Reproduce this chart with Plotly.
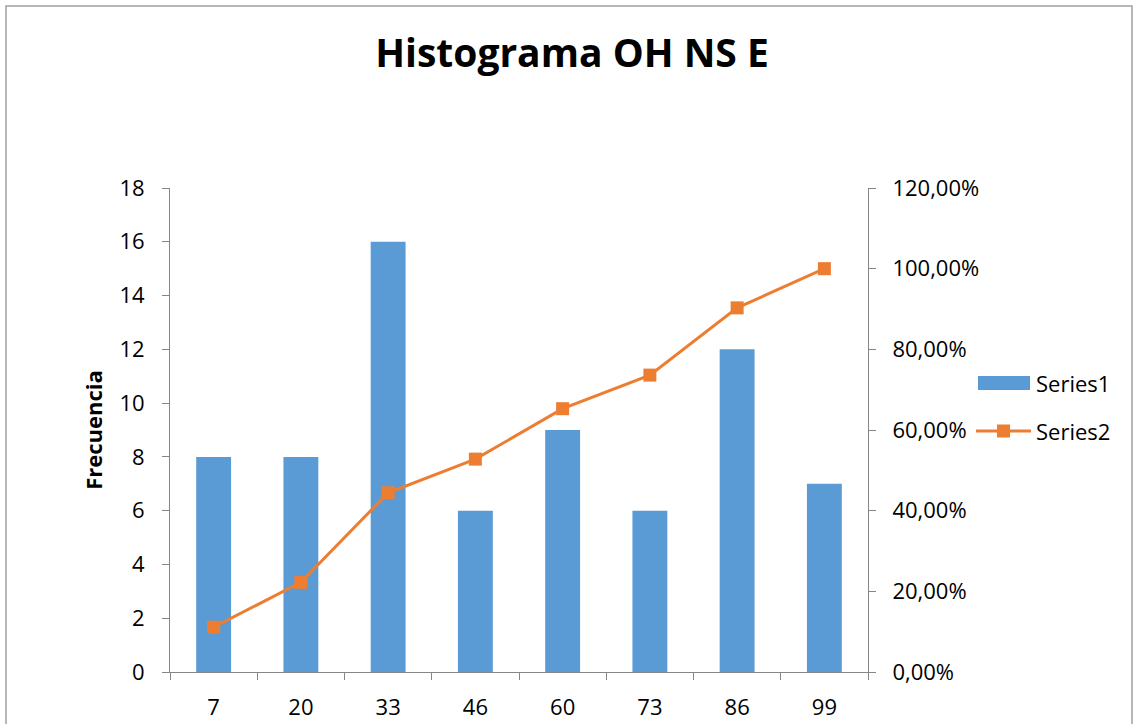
import plotly.graph_objects as go

categories = ["7", "20", "33", "46", "60", "73", "86", "99"]
frecuencia = [8, 8, 16, 6, 9, 6, 12, 7]
acumulado = [0.1111, 0.2222, 0.4444, 0.5278, 0.6528, 0.7361, 0.9028, 1.0]
left_ticks = [0, 2, 4, 6, 8, 10, 12, 14, 16, 18]
right_ticks = [0, 0.2, 0.4, 0.6, 0.8, 1.0, 1.2]
series_names = ["Series1", "Series2"]

FONT = "Open Sans"
BAR_C = "#5B9BD5"
LINE_C = "#ED7D31"
AX_C = "#868686"
W, H = 1134, 724
L, R, T, B = 170, 266, 188, 52
pw, ph = W - L - R, H - T - B


def px2x(p):
    return (p - L) / pw


def px2y(p):
    return (H - B - p) / ph


fig = go.Figure()
fig.add_trace(go.Bar(x=categories, y=frecuencia, name=series_names[0],
                     marker=dict(color=BAR_C, line=dict(width=0)), yaxis="y"))
fig.add_trace(go.Scatter(x=categories, y=acumulado, name=series_names[1], yaxis="y2",
                         mode="lines+markers",
                         line=dict(color=LINE_C, width=3),
                         marker=dict(symbol="square", size=13, color=LINE_C)))

fig.update_layout(
    width=W, height=H,
    margin=dict(l=L, r=R, t=T, b=B, autoexpand=False),
    paper_bgcolor="white", plot_bgcolor="white",
    separators=", ",
    font=dict(family=FONT, size=22, color="#000000"),
    title=dict(text="<b>Histograma OH NS E</b>", x=572 / W, xanchor="center",
               y=1 - 53 / H, yanchor="middle",
               font=dict(family=FONT, size=39, color="#000000")),
    bargap=0.6,
    showlegend=False,
    xaxis=dict(type="category", showline=True, linecolor=AX_C, linewidth=1,
               ticks="outside", tickson="boundaries", ticklen=7, tickcolor=AX_C,
               showgrid=False, tickfont=dict(size=22), zeroline=False,
               ticklabelstandoff=16),
    yaxis=dict(range=[0, 18], tickvals=left_ticks, showline=True, linecolor=AX_C,
               ticks="outside", ticklen=7, tickcolor=AX_C, showgrid=False,
               zeroline=False, tickfont=dict(size=22), ticklabelstandoff=13,
               title=dict(text="<b>Frecuencia</b>", font=dict(size=22), standoff=10)),
    yaxis2=dict(range=[0, 1.2], tickvals=right_ticks, tickformat=".2%", overlaying="y",
                side="right", showline=True, linecolor=AX_C, ticks="outside",
                ticklen=7, tickcolor=AX_C, showgrid=False, zeroline=False,
                tickfont=dict(size=22), ticklabelstandoff=12),
)

# chart border
fig.add_shape(type="rect", xref="paper", yref="paper",
              x0=px2x(6), x1=px2x(1132), y0=px2y(740), y1=px2y(6),
              line=dict(color="#A0A0A0", width=1.5), fillcolor="rgba(0,0,0,0)",
              layer="below")

# legend (drawn manually to match the wide swatches)
fig.add_shape(type="rect", xref="paper", yref="paper",
              x0=px2x(978), x1=px2x(1030), y0=px2y(390), y1=px2y(376),
              line=dict(width=0), fillcolor=BAR_C)
fig.add_shape(type="line", xref="paper", yref="paper",
              x0=px2x(976), x1=px2x(1031), y0=px2y(431), y1=px2y(431),
              line=dict(color=LINE_C, width=3))
fig.add_shape(type="rect", xref="paper", yref="paper",
              x0=px2x(997), x1=px2x(1010), y0=px2y(437.5), y1=px2y(424.5),
              line=dict(width=0), fillcolor=LINE_C)
for name, yc in zip(series_names, [383, 431]):
    fig.add_annotation(text=name, xref="paper", yref="paper",
                       x=px2x(1034), y=px2y(yc), xanchor="left", yanchor="middle",
                       showarrow=False, font=dict(family=FONT, size=22, color="#000000"))

fig.write_html("out.html", config={"displayModeBar": False},
               post_script="document.body.style.margin='0px';")
